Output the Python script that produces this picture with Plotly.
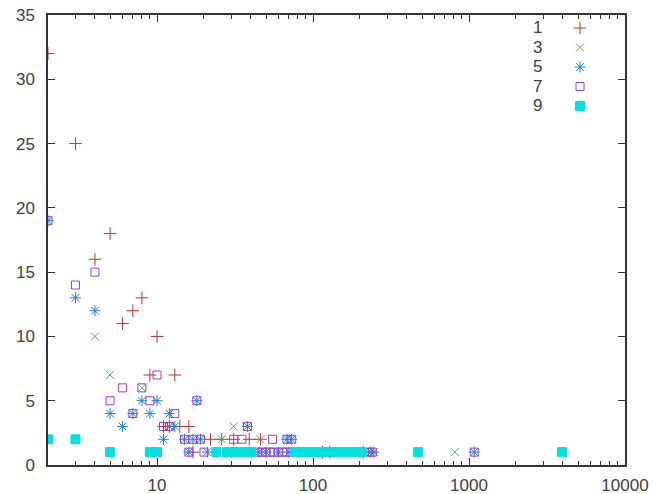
import plotly.graph_objects as go

# ---- data ----
names = ["1", "3", "5", "7", "9"]

x1 = [2, 3, 4, 5, 6, 7, 8, 10, 9, 13, 11, 12, 14, 16, 22, 26, 31, 39, 46, 17, 115, 128, 210]
y1 = [32, 25, 16, 18, 11, 12, 13, 10, 7, 7, 3, 3, 3, 3, 2, 2, 2, 2, 2, 1, 1, 1, 1]

x3 = [4, 5, 8, 12, 31, 26, 46, 215, 810]
y3 = [10, 7, 6, 3, 3, 2, 2, 1, 1]

x5 = [2, 3, 4, 5, 6, 7, 8, 9, 10, 11, 12, 13, 18, 15, 17, 19, 38, 68, 73,
      16, 21, 24, 30, 35, 40, 45, 50, 60, 70, 80, 235, 245, 1080]
y5 = [19, 13, 12, 4, 3, 4, 5, 4, 5, 2, 4, 3, 5, 2, 2, 2, 3, 2, 2,
      1, 1, 1, 1, 1, 1, 1, 1, 1, 1, 1, 1, 1, 1]

x7 = [2, 3, 4, 5, 6, 7, 8, 9, 10, 11, 12, 13, 18, 15, 17, 19, 31, 35, 55, 68, 73, 38,
      16, 20, 30, 44, 47, 50, 53, 56, 60, 64, 68, 72, 128, 225, 240, 1080]
y7 = [19, 14, 15, 5, 6, 4, 6, 5, 7, 3, 3, 4, 5, 2, 2, 2, 2, 2, 2, 2, 2, 3,
      1, 1, 1, 1, 1, 1, 1, 1, 1, 1, 1, 1, 1, 1, 1, 1]

x9 = [2, 3, 5, 9, 10, 24, 28, 31, 34, 37, 40,
      77, 82, 87, 92, 97, 102, 107, 112, 118,
      137, 143, 150, 158, 166, 175, 185, 195, 205, 470, 3950]
y9 = [2, 2, 1, 1, 1, 1, 1, 1, 1, 1, 1,
      1, 1, 1, 1, 1, 1, 1, 1, 1,
      1, 1, 1, 1, 1, 1, 1, 1, 1, 1, 1]

y_ticks = [0, 5, 10, 15, 20, 25, 30, 35]
x_ticks = [10, 100, 1000, 10000]

# ---- styles ----
colors = ["#c0302a", "#4caf50", "#1f7fd8", "#9b3fd0", "#00e2e2"]
symbols = ["cross-thin", "x-thin", "asterisk", "square-open", "square"]
sizes = [9, 8, 9, 8, 9]

fig = go.Figure()
series = [(x1, y1), (x3, y3), (x5, y5), (x7, y7), (x9, y9)]
for (xs, ys), c, s, sz, n in zip(series, colors, symbols, sizes, names):
    fig.add_trace(go.Scatter(
        x=xs, y=ys, mode="markers", name=n, showlegend=False,
        marker=dict(symbol=s, size=sz, color=c, line=dict(color=c, width=1)),
    ))

# ---- custom gnuplot-style legend (text left, sample right) ----
L, R, T, B = 48, 625, 15, 465
W, H = R - L, B - T
rows = [28, 47.5, 67, 86.5, 106]
for i, (n, c, s, sz) in enumerate(zip(names, colors, symbols, sizes)):
    py = (B - rows[i]) / H
    fig.add_trace(go.Scatter(
        x=[(580 - L) / W], y=[py], xaxis="x2", yaxis="y2", mode="markers",
        showlegend=False, hoverinfo="skip",
        marker=dict(symbol=s, size=sz, color=c, line=dict(color=c, width=1)),
    ))
    fig.add_annotation(x=(544 - L) / W, y=py, xref="paper", yref="paper",
                       text=n, showarrow=False, xanchor="right", yanchor="middle",
                       font=dict(family="Liberation Sans, Arial, sans-serif", size=17, color="#404040"))

axis_font = dict(family="Liberation Sans, Arial, sans-serif", size=17, color="#404040")
fig.update_layout(
    width=665, height=494,
    margin=dict(l=L, r=665 - R, t=T, b=494 - B, autoexpand=False),
    paper_bgcolor="white", plot_bgcolor="white",
    font=axis_font,
    xaxis=dict(
        type="log", range=[0.30103, 4], tickvals=x_ticks, ticktext=[str(v) for v in x_ticks],
        ticks="inside", ticklen=7, tickcolor="#333", tickwidth=1,
        showline=True, linecolor="#333", linewidth=1.5, mirror="ticks",
        showgrid=False, zeroline=False, tickfont=axis_font, automargin=False,
        ticklabelstandoff=4,
        minor=dict(ticks="inside", ticklen=4, tickcolor="#333", tickwidth=1,
                   tickvals=[2, 3, 4, 5, 6, 7, 8, 9, 20, 30, 40, 50, 60, 70, 80, 90,
                             200, 300, 400, 500, 600, 700, 800, 900,
                             2000, 3000, 4000, 5000, 6000, 7000, 8000, 9000],
                   showgrid=False),
    ),
    yaxis=dict(
        range=[0, 35], tickvals=y_ticks,
        ticks="inside", ticklen=7, tickcolor="#333", tickwidth=1,
        showline=True, linecolor="#333", linewidth=1.5, mirror="ticks",
        showgrid=False, zeroline=False, tickfont=axis_font, automargin=False,
        ticklabelstandoff=8,
    ),
    xaxis2=dict(overlaying="x", range=[0, 1], visible=False),
    yaxis2=dict(overlaying="y", range=[0, 1], visible=False),
)

fig.write_html("out.html")
